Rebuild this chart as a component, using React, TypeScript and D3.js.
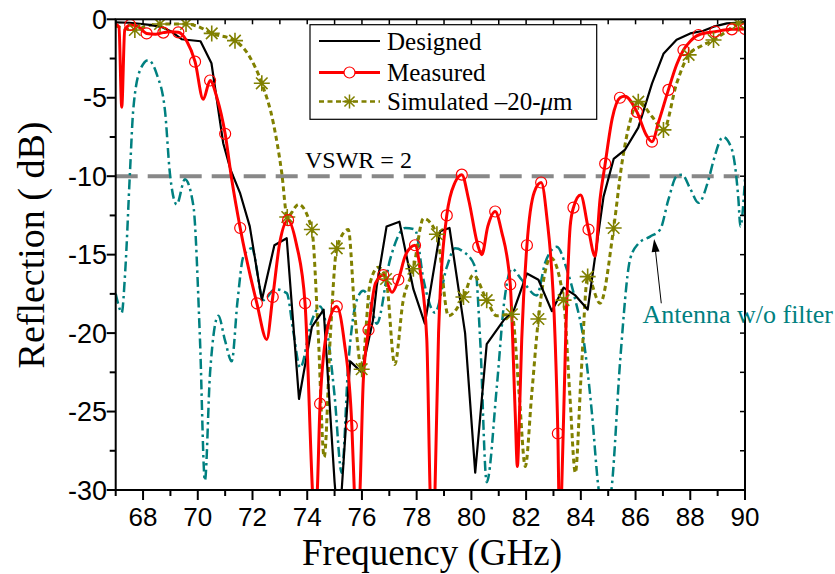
import React from 'react';
import * as d3 from 'd3';

const W = 835;
const H = 574;
const PL = 115.7, PR = 745, PT = 19.3, PB = 490;

const xTickValues = [68, 70, 72, 74, 76, 78, 80, 82, 84, 86, 88, 90];
const xMinorTicks = d3.range(67, 90.01, 1);
const yTickValues = [0, -5, -10, -15, -20, -25, -30];
const yMinorTicks = d3.range(0, -30.01, -2.5);

const designed: [number, number][] = [
  [67.0, -0.2], [67.5, -0.22], [68.25, -0.36], [68.7, -0.5], [69.05, -0.8], [69.41, -1.27], [70.1, -1.4],
  [70.5, -2.8], [70.93, -7.9], [71.2, -9.6], [71.55, -11.1], [71.9, -13.2], [72.34, -17.9], [72.8, -14.4],
  [73.25, -13.95], [73.7, -24.2], [74.17, -19.6], [74.6, -18.5], [75.0, -29.5], [75.12, -32], [75.26, -30],
  [75.57, -21.8], [75.99, -22.5], [76.4, -19.2], [76.54, -17], [76.9, -13.2], [77.37, -12.9], [77.88, -17.2],
  [78.3, -19.4], [78.86, -13.5], [79.2, -13.3], [79.77, -20], [80.14, -28.9], [80.56, -20.7], [81.17, -19.2],
  [81.54, -18.6], [82.03, -16.2], [82.45, -16.6], [82.94, -18.6], [83.37, -17.1], [83.8, -17.6], [84.25, -18.5],
  [84.83, -11.3], [85.2, -8.9], [85.62, -8.3], [86.1, -6.9], [86.6, -4.1], [87.02, -2.2], [87.5, -1.3],
  [88.0, -0.9], [88.48, -0.73], [88.85, -0.47], [89.34, -0.26], [90, -0.2],
];

const measured: [number, number][] = [
  [67.0, -0.3], [67.12, -0.5], [67.22, -5.6], [67.33, -0.7], [67.53, -0.36], [67.8, -0.45], [68.13, -0.9],
  [68.45, -0.95], [68.74, -0.85], [69.0, -0.8], [69.29, -0.83], [69.6, -1.4], [69.9, -2.7], [70.2, -5.1],
  [70.45, -3.9], [70.7, -5.0], [71.0, -7.3], [71.24, -10.2], [71.55, -13.3], [72.16, -18.1], [72.52, -20.4],
  [72.74, -17.7], [73.0, -14.2], [73.3, -12.8], [73.6, -14.3], [73.92, -18.1], [74.19, -30], [74.28, -33],
  [74.37, -30], [74.47, -24.5], [74.75, -19.6], [75.08, -18.3], [75.35, -20.5], [75.63, -25.9], [75.72, -30],
  [75.82, -34], [75.93, -30], [76.05, -23], [76.24, -19.8], [76.5, -16.8], [76.78, -16.3], [77.1, -17.4],
  [77.33, -16.6], [77.6, -15.0], [77.94, -14.4], [78.15, -16.3], [78.37, -20.4], [78.49, -30], [78.58, -34],
  [78.67, -30], [78.8, -20], [79.1, -12.5], [79.4, -10.4], [79.65, -9.9], [79.9, -11.5], [80.25, -14.5],
  [80.38, -15.0], [80.6, -13.2], [80.87, -12.25], [81.1, -13.5], [81.42, -16.9], [81.6, -25], [81.68, -28.5],
  [81.76, -25], [81.84, -20.4], [82.03, -14.4], [82.3, -11.0], [82.55, -10.4], [82.75, -12.5], [83.06, -20.4],
  [83.16, -26.4], [83.23, -33], [83.3, -30], [83.45, -20], [83.61, -13.2], [83.73, -12.0], [83.99, -11.2],
  [84.28, -13.4], [84.52, -15.1], [84.7, -11.5], [84.89, -9.2], [85.15, -6.3], [85.43, -5.0], [85.6, -4.9],
  [86.05, -5.9], [86.4, -7.4], [86.6, -7.8], [86.85, -6.5], [87.2, -4.5], [87.5, -2.9], [87.75, -1.96],
  [88.0, -1.4], [88.3, -1.0], [88.91, -0.79], [89.52, -0.64], [90.0, -0.62],
];
const measuredMarkerF = [
  67.53, 68.13, 68.74, 69.29, 69.9, 70.45, 71.0, 71.55, 72.16, 72.74, 73.3, 73.92, 74.47, 75.08, 75.63, 76.24,
  76.78, 77.33, 77.94, 79.1, 79.65, 80.25, 80.87, 81.42, 82.03, 82.55, 83.16, 83.73, 84.28, 84.89, 85.43,
  86.05, 86.6, 87.2, 87.75, 88.3, 88.91, 89.52, 90.0,
];

const simulated: [number, number][] = [
  [67.0, -0.43], [67.7, -0.68], [68.1, -0.45], [68.62, -0.3], [69.57, -0.3], [70.0, -0.45], [70.51, -0.9],
  [71.36, -1.36], [71.9, -2.4], [72.34, -4.08], [72.76, -6.6], [73.07, -9.8], [73.27, -12.6], [73.68, -11.8],
  [74.17, -13.4], [74.4, -20], [74.62, -27.9], [74.85, -20], [75.08, -14.6], [75.5, -13.4], [75.75, -19],
  [75.99, -22.3], [76.3, -16.8], [76.6, -15.8], [76.88, -16.55], [77.2, -22], [77.5, -18], [77.88, -15.9],
  [78.25, -12.7], [78.74, -13.7], [79.16, -18.9], [79.71, -17.7], [80.07, -16.3], [80.56, -17.9], [80.93, -18.9],
  [81.48, -18.8], [81.75, -24], [81.97, -28.5], [82.2, -24], [82.45, -19.1], [82.9, -15.2], [83.37, -17.9],
  [83.6, -24], [83.8, -28.9], [84.0, -23], [84.25, -16.4], [84.7, -18.1], [85.2, -13.3], [85.5, -9.2],
  [85.8, -6.5], [86.1, -5.25], [86.6, -6.2], [87.02, -7.05], [87.5, -4.1], [87.94, -2.27], [88.4, -1.7],
  [88.85, -1.32], [89.3, -0.8], [89.76, -0.26], [90, -0.2],
];
const simulatedMarkerF = [
  67.7, 68.62, 69.57, 70.51, 71.36, 72.34, 73.27, 74.17, 75.08, 75.99, 76.88, 77.88, 78.74, 79.71, 80.56,
  81.48, 82.45, 83.37, 84.25, 85.2, 86.1, 87.02, 87.94, 88.85, 89.76,
];

const antenna: [number, number][] = [
  [67.0, -17.5], [67.1, -18.2], [67.22, -18.7], [67.35, -16], [67.52, -9.8], [67.64, -5.8], [67.9, -3.2],
  [68.19, -2.6], [68.5, -3.5], [68.8, -5.8], [68.98, -9.8], [69.23, -11.8], [69.53, -10.2], [69.84, -11.9],
  [70.08, -20.4], [70.26, -29.4], [70.45, -22.5], [70.75, -18.9], [71.0, -20.5], [71.24, -21.8], [71.45, -18],
  [71.67, -15.1], [71.97, -14.6], [72.4, -17.9], [72.82, -17.2], [73.25, -17.45], [73.5, -20], [73.74, -22.2],
  [74.17, -19.2], [74.47, -18.3], [74.77, -20.4], [75.0, -24], [75.26, -28.9], [75.5, -22], [75.81, -17.9],
  [76.05, -17.3], [76.3, -18], [76.54, -19.4], [77.03, -15.3], [77.58, -13.3], [77.94, -13.4], [78.25, -16.6],
  [78.67, -18.7], [79.1, -15.8], [79.4, -14.6], [79.7, -14.8], [80.14, -15.8], [80.32, -20.4], [80.56, -29.5],
  [80.93, -23.4], [81.2, -18], [81.48, -15.9], [81.84, -16.6], [82.39, -17.6], [82.7, -15.5], [83.12, -14.5],
  [83.5, -16], [83.8, -17.9], [84.1, -20.4], [84.4, -25], [84.64, -29.8], [84.88, -32], [85.13, -29.8],
  [85.44, -21.7], [85.8, -15.3], [86.1, -14.3], [86.53, -13.85], [86.9, -13.4], [87.2, -11.5], [87.5, -10.0],
  [87.7, -9.9], [88.0, -10.8], [88.3, -11.7], [88.67, -10.2], [88.85, -9.0], [89.2, -7.5], [89.52, -8.3],
  [89.76, -11.5], [89.83, -13.2], [90, -10.2],
];

const vswrLevel = -10;
const legendLabels = ['Designed', 'Measured', 'Simulated'];

const SERIF = "'Liberation Serif', 'Times New Roman', serif";
const SANS = "'Liberation Sans', Arial, sans-serif";
const RED = '#ff0000';
const OLIVE = '#808000';
const TEAL = '#008080';

function starPath(s: number) {
  const d = s * 0.72;
  return `M${-s},0L${s},0M0,${-s}L0,${s}M${-d},${-d}L${d},${d}M${-d},${d}L${d},${-d}`;
}

export default function App() {
  const x = d3.scaleLinear().domain([67, 90]).range([PL, PR]);
  const y = d3.scaleLinear().domain([0, -30]).range([PT, PB]);
  const lin = d3.line<[number, number]>().x(d => x(d[0])).y(d => y(d[1]));
  const smooth = d3.line<[number, number]>().x(d => x(d[0])).y(d => y(d[1])).curve(d3.curveMonotoneX);

  const measMarkers = measured.filter(d => measuredMarkerF.includes(d[0]));
  const simMarkers = simulated.filter(d => simulatedMarkerF.includes(d[0]));

  const arrowTip: [number, number] = [86.68, -14.0];
  const arrowTail: [number, number] = [86.94, -18.1];
  const ax = x(arrowTip[0]), ay = y(arrowTip[1]);
  const bx = x(arrowTail[0]), by = y(arrowTail[1]);
  const ang = Math.atan2(ay - by, ax - bx);
  const hl = 13, hw = 4;
  const p1 = [ax - hl * Math.cos(ang) + hw * Math.sin(ang), ay - hl * Math.sin(ang) - hw * Math.cos(ang)];
  const p2 = [ax - hl * Math.cos(ang) - hw * Math.sin(ang), ay - hl * Math.sin(ang) + hw * Math.cos(ang)];

  const lgX0 = 319, lgX1 = 380, lgTx = 387;
  const lgY = [41, 72.5, 101.5];

  return (
    <svg width={W} height={H} style={{ position: 'absolute', left: 0, top: 0, background: '#fff' }}>
      <defs>
        <clipPath id="plot">
          <rect x={PL} y={PT} width={PR - PL} height={PB - PT} />
        </clipPath>
      </defs>

      {/* VSWR reference */}
      <line x1={x(67)} x2={x(89.8)} y1={y(vswrLevel)} y2={y(vswrLevel)} stroke="#888" strokeWidth={4} strokeDasharray="22,10" />
      <text x={x(73.92)} y={y(-9.45)} fontFamily={SERIF} fontSize={24} fill="#000">VSWR = 2</text>

      <g clipPath="url(#plot)" fill="none">
        <path d={smooth(antenna) || ''} stroke={TEAL} strokeWidth={2.5} strokeDasharray="10,4,2.5,4" />
        <path d={smooth(simulated) || ''} stroke={OLIVE} strokeWidth={3} strokeDasharray="5,3.5" />
        <path d={lin(designed) || ''} stroke="#000" strokeWidth={2.2} strokeLinejoin="round" />
        <path d={smooth(measured) || ''} stroke={RED} strokeWidth={3} />
        {simMarkers.map((d, i) => (
          <path key={'s' + i} d={starPath(8)} transform={`translate(${x(d[0])},${y(d[1])})`} stroke={OLIVE} strokeWidth={1.6} />
        ))}
        {measMarkers.map((d, i) => (
          <circle key={'m' + i} cx={x(d[0])} cy={y(d[1])} r={5.5} stroke={RED} strokeWidth={1.2} fill="none" />
        ))}
      </g>

      {/* frame */}
      <rect x={PL} y={PT} width={PR - PL} height={PB - PT} fill="none" stroke="#000" strokeWidth={2} />

      {/* x ticks */}
      {xMinorTicks.map(t => (
        <g key={'xt' + t}>
          <line x1={x(t)} x2={x(t)} y1={PB} y2={PB + (t % 2 === 0 ? 10 : 6)} stroke="#000" strokeWidth={2} />
          <line x1={x(t)} x2={x(t)} y1={PT} y2={PT + 5} stroke="#000" strokeWidth={1.5} />
        </g>
      ))}
      {xTickValues.map(t => (
        <text key={'xl' + t} x={x(t)} y={526} textAnchor="middle" fontFamily={SANS} fontSize={26} fill="#000">{t}</text>
      ))}

      {/* y ticks */}
      {yMinorTicks.map(t => (
        <g key={'yt' + t}>
          <line x1={PL - (t % 5 === 0 ? 9 : 6)} x2={PL} y1={y(t)} y2={y(t)} stroke="#000" strokeWidth={2} />
          <line x1={PR - 5} x2={PR} y1={y(t)} y2={y(t)} stroke="#000" strokeWidth={1.5} />
        </g>
      ))}
      {yTickValues.map(t => (
        <text key={'yl' + t} x={107} y={y(t) + 9.7} textAnchor="end" fontFamily={SANS} fontSize={27} fill="#000">{t}</text>
      ))}

      {/* axis titles */}
      <text x={432} y={565} textAnchor="middle" fontFamily={SERIF} fontSize={37} fill="#000">Frequency (GHz)</text>
      <text transform={`translate(44,245) rotate(-90)`} textAnchor="middle" fontFamily={SERIF} fontSize={38} fill="#000">Reflection ( dB)</text>

      {/* legend */}
      <rect x={310} y={24.7} width={286.7} height={94.6} fill="#fff" stroke="#000" strokeWidth={1.2} />
      <line x1={lgX0} x2={lgX1} y1={lgY[0]} y2={lgY[0]} stroke="#000" strokeWidth={2.2} />
      <line x1={lgX0} x2={lgX1} y1={lgY[1]} y2={lgY[1]} stroke={RED} strokeWidth={2.8} />
      <circle cx={(lgX0 + lgX1) / 2} cy={lgY[1]} r={5.5} fill="#fff" stroke={RED} strokeWidth={1.2} />
      <line x1={lgX0} x2={lgX1} y1={lgY[2]} y2={lgY[2]} stroke={OLIVE} strokeWidth={2.5} strokeDasharray="5,3.5" />
      <path d={starPath(7)} transform={`translate(${(lgX0 + lgX1) / 2},${lgY[2]})`} stroke={OLIVE} strokeWidth={1.5} fill="none" />
      <text x={lgTx} y={lgY[0] + 8.5} fontFamily={SERIF} fontSize={25} fill="#000">{legendLabels[0]}</text>
      <text x={lgTx} y={lgY[1] + 8.5} fontFamily={SERIF} fontSize={25} fill="#000">{legendLabels[1]}</text>
      <text x={lgTx} y={lgY[2] + 8.5} fontFamily={SERIF} fontSize={25} fill="#000">
        {legendLabels[2]} –20-<tspan fontStyle="italic">μ</tspan>m
      </text>

      {/* annotation */}
      <line x1={bx} y1={by} x2={ax - 10 * Math.cos(ang)} y2={ay - 10 * Math.sin(ang)} stroke="#000" strokeWidth={1} />
      <polygon points={`${ax},${ay} ${p1[0]},${p1[1]} ${p2[0]},${p2[1]}`} fill="#000" />
      <text x={x(86.25)} y={y(-19.35)} fontFamily={SERIF} fontSize={26} fill={TEAL}>Antenna w/o filter</text>
    </svg>
  );
}
